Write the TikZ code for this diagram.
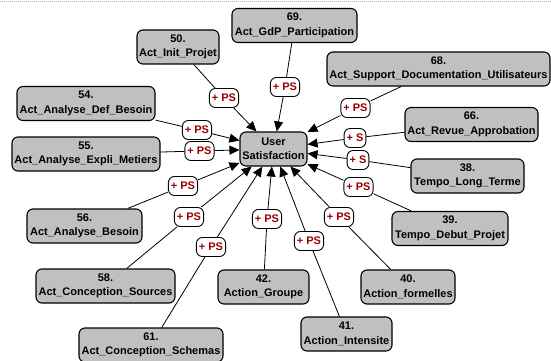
\documentclass[tikz,border=0pt]{standalone}
\usepackage{fontspec}
\setmainfont{Liberation Sans}
\usetikzlibrary{arrows.meta}
\definecolor{boxgray}{RGB}{192,192,192}
\definecolor{lblred}{RGB}{153,0,0}
\begin{document}
\begin{tikzpicture}[x=1pt,y=-1pt,
 box/.style={draw=black, line width=1.1pt, fill=boxgray, rounded corners=6pt, minimum height=34pt, inner xsep=2pt, align=center, font=\fontsize{11}{14.5}\selectfont\bfseries},
 lbl/.style={draw=black, line width=0.9pt, fill=white, rounded corners=6pt, minimum height=19pt, inner xsep=2.5pt, inner ysep=1pt, text=lblred, font=\fontsize{11}{12}\selectfont\bfseries},
 edge/.style={draw=black, line width=0.8pt},
 arr/.style={edge, -{Triangle[length=10pt,width=9pt]}}]
\useasboundingbox (0,0) rectangle (551,361);
\clip (0,0) rectangle (551,361);
\draw[gray!60, line width=0.6pt, dash pattern=on 1pt off 1pt] (0,1.5) -- (551,1.5);

\node[box, minimum width=67pt] (us) at (273.5,149) {User\\Satisfaction};

\node[box, minimum width=125pt] (n69) at (294.5,25.5) {69.\\Act\_GdP\_Participation};
\node[box, minimum width=82pt]  (n50) at (178,47) {50.\\Act\_Init\_Projet};
\node[box, minimum width=138pt] (n54) at (86,103.5) {54.\\Act\_Analyse\_Def\_Besoin};
\node[box, minimum width=148pt] (n55) at (86,154) {55.\\Act\_Analyse\_Expli\_Metiers};
\node[box, minimum width=223pt] (n68) at (438.5,69) {68.\\Act\_Support\_Documentation\_Utilisateurs};
\node[box, minimum width=133pt] (n66) at (471.5,124.5) {66.\\Act\_Revue\_Approbation};
\node[box, minimum width=113pt] (n38) at (467.5,176) {38.\\Tempo\_Long\_Terme};
\node[box, minimum width=116pt] (n39) at (450,228.5) {39.\\Tempo\_Debut\_Projet};
\node[box, minimum width=94pt]  (n40) at (408,287) {40.\\Action\_formelles};
\node[box, minimum width=91pt]  (n41) at (346.5,334) {41.\\Action\_Intensite};
\node[box, minimum width=91pt]  (n42) at (263.5,287) {42.\\Action\_Groupe};
\node[box, minimum width=144pt] (n61) at (151,345) {61.\\Act\_Conception\_Schemas};
\node[box, minimum width=139pt] (n58) at (105.5,286) {58.\\Act\_Conception\_Sources};
\node[box, minimum width=115pt] (n56) at (84.5,226) {56.\\Act\_Analyse\_Besoin};

\node[lbl] (l69) at (285,87) {+ PS};
\node[lbl] (l50) at (224,98) {+ PS};
\node[lbl] (l54) at (197,130) {+ PS};
\node[lbl] (l55) at (199.5,151) {+ PS};
\node[lbl] (l68) at (355.5,108) {+ PS};
\node[lbl] (l66) at (355,138) {+ S};
\node[lbl] (l38) at (358,160) {+ S};
\node[lbl] (l39) at (358.5,187) {+ PS};
\node[lbl] (l40) at (339,217) {+ PS};
\node[lbl] (l41) at (309,241) {+ PS};
\node[lbl] (l42) at (267,219) {+ PS};
\node[lbl] (l61) at (211,247) {+ PS};
\node[lbl] (l58) at (189,217) {+ PS};
\node[lbl] (l56) at (183,186) {+ PS};

\foreach \s in {69,50,54,55,68,66,38,39,40,41,42,61,58,56}{
  \draw[edge] (n\s) -- (l\s);
  \draw[arr] (l\s) -- (us);
}
\end{tikzpicture}
\end{document}
